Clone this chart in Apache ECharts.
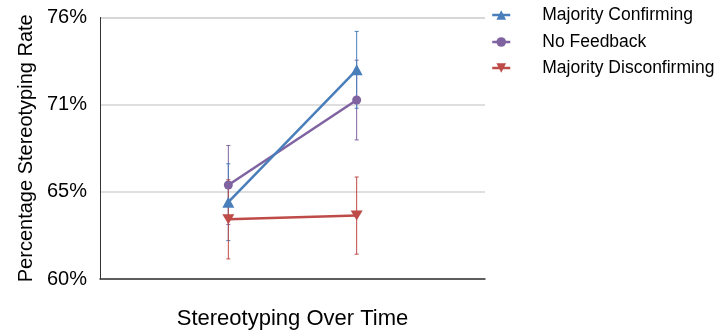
<!DOCTYPE html>
<html>
<head>
<meta charset="utf-8">
<script src="https://cdn.jsdelivr.net/npm/echarts@6/dist/echarts.min.js"></script>
<style>html,body{margin:0;padding:0;background:#fff}#c{width:717px;height:335px}</style>
</head>
<body>
<div id="c"></div>
<script>
var categories = ['Time 1', 'Time 2'];
var seriesNames = ['Majority Confirming', 'No Feedback', 'Majority Disconfirming'];
var confirming = [64.7, 72.8];
var confirmingErr = [2.35, 2.35];
var noFeedback = [65.75, 70.95];
var noFeedbackErr = [2.42, 2.44];
var disconfirming = [63.65, 63.88];
var disconfirmingErr = [2.42, 2.36];
var yTicks = [60, 65.333333, 70.666667, 76];

var colors = ['#4A7EBB', '#7F63A1', '#BE4B48'];
var symbols = ['triangle', 'circle', 'path://M0,0 L10,0 L5,9 Z'];
var symbolSizes = [[12, 11], 9, [12, 10]];
var vals = [confirming, noFeedback, disconfirming];
var errs = [confirmingErr, noFeedbackErr, disconfirmingErr];

function pts(v) { return v.map(function (y, i) { return [i + 1, y]; }); }
function errData(v, e) { return v.map(function (y, i) { return [i + 1, y - e[i], y + e[i]]; }); }

var series = [];
[1, 0, 2].forEach(function (k) {
  series.push({
    name: seriesNames[k] + ' err',
    type: 'custom',
    data: errData(vals[k], errs[k]),
    z: 1,
    silent: true,
    renderItem: function (params, api) {
      var lo = api.coord([api.value(0), api.value(1)]);
      var hi = api.coord([api.value(0), api.value(2)]);
      var c = colors[k];
      var w = 2;
      return {
        type: 'group',
        children: [
          { type: 'line', shape: { x1: lo[0], y1: lo[1], x2: hi[0], y2: hi[1] }, style: { stroke: c, lineWidth: 1 } },
          { type: 'line', shape: { x1: lo[0] - w, y1: lo[1], x2: lo[0] + w, y2: lo[1] }, style: { stroke: c, lineWidth: 1 } },
          { type: 'line', shape: { x1: hi[0] - w, y1: hi[1], x2: hi[0] + w, y2: hi[1] }, style: { stroke: c, lineWidth: 1 } }
        ]
      };
    }
  });
});
[1, 0, 2].forEach(function (k) {
  series.push({
    name: seriesNames[k],
    type: 'line',
    data: pts(vals[k]),
    z: 2,
    symbol: symbols[k],
    symbolSize: symbolSizes[k],
    showAllSymbol: true,
    lineStyle: { color: colors[k], width: 2.5 },
    itemStyle: { color: colors[k], borderWidth: 0 }
  });
});

var legendLeft = [491, 491, 491];
function legendFor(k, top) {
  return {
    data: [seriesNames[k]],
    left: legendLeft[k],
    top: top,
    orient: 'vertical',
    itemWidth: 18,
    itemHeight: 12,
    padding: 0,
    selectedMode: false,
    itemStyle: { borderWidth: 0 },
    lineStyle: { width: 2.5 },
    textStyle: { fontSize: 17.5, color: '#000', fontFamily: 'Liberation Sans, Arial, sans-serif', padding: [0, 0, 0, 27] }
  };
}

var chart = echarts.init(document.getElementById('c'), null, { renderer: 'canvas' });
chart.setOption({
  animation: false,
  color: colors,
  textStyle: { fontFamily: 'Liberation Sans, Arial, sans-serif' },
  legend: [legendFor(0, 6), legendFor(1, 33), legendFor(2, 59)],
  grid: { left: 100, right: 232, top: 17.5, bottom: 50, containLabel: false },
  xAxis: {
    type: 'value', min: 0, max: 3,
    name: 'Stereotyping Over Time',
    nameLocation: 'middle', nameGap: 29,
    nameTextStyle: { fontSize: 22, color: '#000' },
    axisLine: { show: true, onZero: false, lineStyle: { color: '#333', width: 1.5 } },
    axisTick: { show: false }, axisLabel: { show: false }, splitLine: { show: false }
  },
  yAxis: {
    type: 'value', min: yTicks[0], max: yTicks[yTicks.length - 1], interval: (yTicks[yTicks.length - 1] - yTicks[0]) / (yTicks.length - 1),
    name: 'Percentage Stereotyping Rate',
    nameLocation: 'middle', nameGap: 63,
    nameTextStyle: { fontSize: 20, color: '#000' },
    axisLine: { show: true, lineStyle: { color: '#333', width: 1 } },
    axisTick: { show: false },
    axisLabel: { fontSize: 20, color: '#000', margin: 13, padding: [4, 0, 0, 0], formatter: function (v) { return Math.round(v) + '%'; } },
    splitLine: { show: true, lineStyle: { color: '#d4d4d4', width: 1.5 } }
  },
  series: series
});
</script>
</body>
</html>
